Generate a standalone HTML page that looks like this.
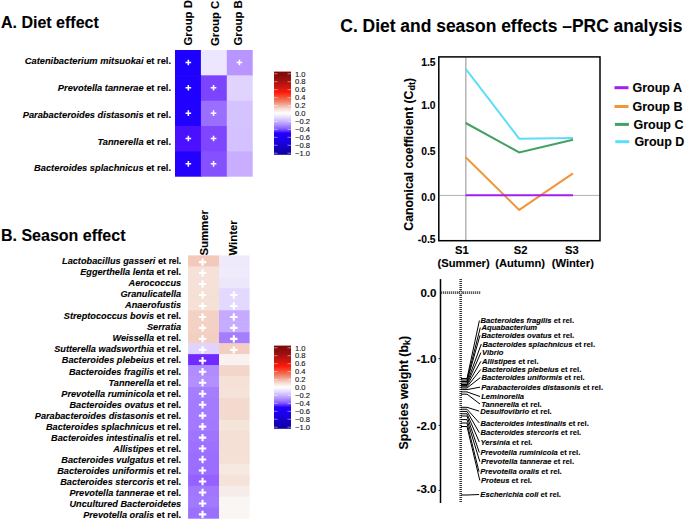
<!DOCTYPE html>
<html><head><meta charset="utf-8"><style>
html,body{margin:0;padding:0;background:#fff;}
svg{display:block;}
text{stroke:#000;stroke-width:0.1px;}
</style></head><body>
<svg width="685" height="520" viewBox="0 0 685 520" style="font-family:'Liberation Sans',sans-serif">
<rect width="685" height="520" fill="#fff"/>
<text x="1" y="27.5" font-size="16" font-weight="bold" font-family="Liberation Sans, sans-serif">A. Diet effect</text>
<text transform="translate(191.5,45.5) rotate(-90)" font-size="11.35" font-weight="bold" font-family="Liberation Sans, sans-serif">Group D</text>
<text transform="translate(219.3,46.1) rotate(-90)" font-size="11.35" font-weight="bold" font-family="Liberation Sans, sans-serif">Group C</text>
<text transform="translate(242.4,45.6) rotate(-90)" font-size="11.35" font-weight="bold" font-family="Liberation Sans, sans-serif">Group B</text>
<rect x="175.0" y="50.00" width="26.50" height="25.94" fill="#1E00FF"/>
<rect x="200.9" y="50.00" width="26.50" height="25.94" fill="#ECE6FF"/>
<rect x="226.8" y="50.00" width="25.90" height="25.94" fill="#B995FF"/>
<rect x="175.0" y="75.34" width="26.50" height="25.94" fill="#2000FF"/>
<rect x="200.9" y="75.34" width="26.50" height="25.94" fill="#7C44FF"/>
<rect x="226.8" y="75.34" width="25.90" height="25.94" fill="#E0D4FF"/>
<rect x="175.0" y="100.68" width="26.50" height="25.94" fill="#2200FF"/>
<rect x="200.9" y="100.68" width="26.50" height="25.94" fill="#9A6FFF"/>
<rect x="226.8" y="100.68" width="25.90" height="25.94" fill="#D5C3FF"/>
<rect x="175.0" y="126.02" width="26.50" height="25.94" fill="#4A10FF"/>
<rect x="200.9" y="126.02" width="26.50" height="25.94" fill="#8046FF"/>
<rect x="226.8" y="126.02" width="25.90" height="25.94" fill="#D3C2FF"/>
<rect x="175.0" y="151.36" width="26.50" height="25.34" fill="#2400FF"/>
<rect x="200.9" y="151.36" width="26.50" height="25.34" fill="#8550FF"/>
<rect x="226.8" y="151.36" width="25.90" height="25.34" fill="#C9AEFF"/>
<path d="M185.55 62.47H191.15M188.35 59.67V65.27" stroke="#fff" stroke-width="1.5" fill="none"/>
<path d="M236.65 62.47H242.25M239.45 59.67V65.27" stroke="#fff" stroke-width="1.5" fill="none"/>
<text x="171" y="64.40" text-anchor="end" font-size="9.3" font-weight="bold" font-family="Liberation Sans, sans-serif"><tspan font-style="italic">Catenibacterium mitsuokai</tspan> et rel.</text>
<path d="M185.55 87.81H191.15M188.35 85.01V90.61" stroke="#fff" stroke-width="1.5" fill="none"/>
<path d="M210.75 87.81H216.35M213.55 85.01V90.61" stroke="#fff" stroke-width="1.5" fill="none"/>
<text x="171" y="91.10" text-anchor="end" font-size="9.3" font-weight="bold" font-family="Liberation Sans, sans-serif"><tspan font-style="italic">Prevotella tannerae</tspan> et rel.</text>
<path d="M185.55 113.15H191.15M188.35 110.35V115.95" stroke="#fff" stroke-width="1.5" fill="none"/>
<path d="M210.75 113.15H216.35M213.55 110.35V115.95" stroke="#fff" stroke-width="1.5" fill="none"/>
<text x="171" y="117.80" text-anchor="end" font-size="9.3" font-weight="bold" font-family="Liberation Sans, sans-serif"><tspan font-style="italic">Parabacteroides distasonis</tspan> et rel.</text>
<path d="M185.55 138.49H191.15M188.35 135.69V141.29" stroke="#fff" stroke-width="1.5" fill="none"/>
<path d="M210.75 138.49H216.35M213.55 135.69V141.29" stroke="#fff" stroke-width="1.5" fill="none"/>
<text x="171" y="144.50" text-anchor="end" font-size="9.3" font-weight="bold" font-family="Liberation Sans, sans-serif"><tspan font-style="italic">Tannerella</tspan> et rel.</text>
<path d="M185.55 163.83H191.15M188.35 161.03V166.63" stroke="#fff" stroke-width="1.5" fill="none"/>
<path d="M210.75 163.83H216.35M213.55 161.03V166.63" stroke="#fff" stroke-width="1.5" fill="none"/>
<text x="171" y="171.20" text-anchor="end" font-size="9.3" font-weight="bold" font-family="Liberation Sans, sans-serif"><tspan font-style="italic">Bacteroides splachnicus</tspan> et rel.</text>
<defs><linearGradient id="gA" x1="0" y1="0" x2="0" y2="1"><stop offset="0" stop-color="#7A0808"/><stop offset="0.1" stop-color="#9C1010"/><stop offset="0.2" stop-color="#D81810"/><stop offset="0.25" stop-color="#FF1A0A"/><stop offset="0.30" stop-color="#F84A30"/><stop offset="0.35" stop-color="#F07A60"/><stop offset="0.40" stop-color="#F2AC9C"/><stop offset="0.45" stop-color="#F8DDD5"/><stop offset="0.5" stop-color="#FFFFFF"/><stop offset="0.55" stop-color="#E6DDFF"/><stop offset="0.62" stop-color="#BCA2FF"/><stop offset="0.68" stop-color="#9266FF"/><stop offset="0.715" stop-color="#5A30FF"/><stop offset="0.74" stop-color="#2200FF"/><stop offset="0.86" stop-color="#1800DC"/><stop offset="1" stop-color="#10009A"/></linearGradient></defs>
<rect x="274" y="71.6" width="17" height="83.2" fill="url(#gA)"/>
<path d="M274 73.80h3.5M287.5 73.80h3.5" stroke="#fff" stroke-opacity="0.6" stroke-width="0.8"/>
<text x="295" y="76.50" font-size="7.6" fill="#111" font-family="Liberation Sans, sans-serif">1.0</text>
<path d="M274 81.74h3.5M287.5 81.74h3.5" stroke="#fff" stroke-opacity="0.6" stroke-width="0.8"/>
<text x="295" y="84.44" font-size="7.6" fill="#111" font-family="Liberation Sans, sans-serif">0.8</text>
<path d="M274 89.68h3.5M287.5 89.68h3.5" stroke="#fff" stroke-opacity="0.6" stroke-width="0.8"/>
<text x="295" y="92.38" font-size="7.6" fill="#111" font-family="Liberation Sans, sans-serif">0.6</text>
<path d="M274 97.62h3.5M287.5 97.62h3.5" stroke="#fff" stroke-opacity="0.6" stroke-width="0.8"/>
<text x="295" y="100.32" font-size="7.6" fill="#111" font-family="Liberation Sans, sans-serif">0.4</text>
<path d="M274 105.56h3.5M287.5 105.56h3.5" stroke="#fff" stroke-opacity="0.6" stroke-width="0.8"/>
<text x="295" y="108.26" font-size="7.6" fill="#111" font-family="Liberation Sans, sans-serif">0.2</text>
<path d="M274 113.50h3.5M287.5 113.50h3.5" stroke="#fff" stroke-opacity="0.6" stroke-width="0.8"/>
<text x="295" y="116.20" font-size="7.6" fill="#111" font-family="Liberation Sans, sans-serif">0.0</text>
<path d="M274 121.44h3.5M287.5 121.44h3.5" stroke="#fff" stroke-opacity="0.6" stroke-width="0.8"/>
<text x="295" y="124.14" font-size="7.6" fill="#111" font-family="Liberation Sans, sans-serif">−0.2</text>
<path d="M274 129.38h3.5M287.5 129.38h3.5" stroke="#fff" stroke-opacity="0.6" stroke-width="0.8"/>
<text x="295" y="132.08" font-size="7.6" fill="#111" font-family="Liberation Sans, sans-serif">−0.4</text>
<path d="M274 137.32h3.5M287.5 137.32h3.5" stroke="#fff" stroke-opacity="0.6" stroke-width="0.8"/>
<text x="295" y="140.02" font-size="7.6" fill="#111" font-family="Liberation Sans, sans-serif">−0.6</text>
<path d="M274 145.26h3.5M287.5 145.26h3.5" stroke="#fff" stroke-opacity="0.6" stroke-width="0.8"/>
<text x="295" y="147.96" font-size="7.6" fill="#111" font-family="Liberation Sans, sans-serif">−0.8</text>
<path d="M274 153.20h3.5M287.5 153.20h3.5" stroke="#fff" stroke-opacity="0.6" stroke-width="0.8"/>
<text x="295" y="155.90" font-size="7.6" fill="#111" font-family="Liberation Sans, sans-serif">−1.0</text>
<defs><linearGradient id="gB" x1="0" y1="0" x2="0" y2="1"><stop offset="0" stop-color="#7A0808"/><stop offset="0.1" stop-color="#9C1010"/><stop offset="0.2" stop-color="#D81810"/><stop offset="0.25" stop-color="#FF1A0A"/><stop offset="0.30" stop-color="#F84A30"/><stop offset="0.35" stop-color="#F07A60"/><stop offset="0.40" stop-color="#F2AC9C"/><stop offset="0.45" stop-color="#F8DDD5"/><stop offset="0.5" stop-color="#FFFFFF"/><stop offset="0.55" stop-color="#E6DDFF"/><stop offset="0.62" stop-color="#BCA2FF"/><stop offset="0.68" stop-color="#9266FF"/><stop offset="0.715" stop-color="#5A30FF"/><stop offset="0.74" stop-color="#2200FF"/><stop offset="0.86" stop-color="#1800DC"/><stop offset="1" stop-color="#10009A"/></linearGradient></defs>
<rect x="274" y="345.6" width="17" height="83.2" fill="url(#gB)"/>
<path d="M274 347.80h3.5M287.5 347.80h3.5" stroke="#fff" stroke-opacity="0.6" stroke-width="0.8"/>
<text x="295" y="350.50" font-size="7.6" fill="#111" font-family="Liberation Sans, sans-serif">1.0</text>
<path d="M274 355.74h3.5M287.5 355.74h3.5" stroke="#fff" stroke-opacity="0.6" stroke-width="0.8"/>
<text x="295" y="358.44" font-size="7.6" fill="#111" font-family="Liberation Sans, sans-serif">0.8</text>
<path d="M274 363.68h3.5M287.5 363.68h3.5" stroke="#fff" stroke-opacity="0.6" stroke-width="0.8"/>
<text x="295" y="366.38" font-size="7.6" fill="#111" font-family="Liberation Sans, sans-serif">0.6</text>
<path d="M274 371.62h3.5M287.5 371.62h3.5" stroke="#fff" stroke-opacity="0.6" stroke-width="0.8"/>
<text x="295" y="374.32" font-size="7.6" fill="#111" font-family="Liberation Sans, sans-serif">0.4</text>
<path d="M274 379.56h3.5M287.5 379.56h3.5" stroke="#fff" stroke-opacity="0.6" stroke-width="0.8"/>
<text x="295" y="382.26" font-size="7.6" fill="#111" font-family="Liberation Sans, sans-serif">0.2</text>
<path d="M274 387.50h3.5M287.5 387.50h3.5" stroke="#fff" stroke-opacity="0.6" stroke-width="0.8"/>
<text x="295" y="390.20" font-size="7.6" fill="#111" font-family="Liberation Sans, sans-serif">0.0</text>
<path d="M274 395.44h3.5M287.5 395.44h3.5" stroke="#fff" stroke-opacity="0.6" stroke-width="0.8"/>
<text x="295" y="398.14" font-size="7.6" fill="#111" font-family="Liberation Sans, sans-serif">−0.2</text>
<path d="M274 403.38h3.5M287.5 403.38h3.5" stroke="#fff" stroke-opacity="0.6" stroke-width="0.8"/>
<text x="295" y="406.08" font-size="7.6" fill="#111" font-family="Liberation Sans, sans-serif">−0.4</text>
<path d="M274 411.32h3.5M287.5 411.32h3.5" stroke="#fff" stroke-opacity="0.6" stroke-width="0.8"/>
<text x="295" y="414.02" font-size="7.6" fill="#111" font-family="Liberation Sans, sans-serif">−0.6</text>
<path d="M274 419.26h3.5M287.5 419.26h3.5" stroke="#fff" stroke-opacity="0.6" stroke-width="0.8"/>
<text x="295" y="421.96" font-size="7.6" fill="#111" font-family="Liberation Sans, sans-serif">−0.8</text>
<path d="M274 427.20h3.5M287.5 427.20h3.5" stroke="#fff" stroke-opacity="0.6" stroke-width="0.8"/>
<text x="295" y="429.90" font-size="7.6" fill="#111" font-family="Liberation Sans, sans-serif">−1.0</text>
<text x="1" y="240.9" font-size="16" font-weight="bold" font-family="Liberation Sans, sans-serif">B. Season effect</text>
<rect x="188.1" y="255.40" width="31.50" height="11.57" fill="#F2C9BB"/>
<rect x="219.0" y="255.40" width="30.60" height="11.57" fill="#EEEAFB"/>
<rect x="188.1" y="266.37" width="31.50" height="11.57" fill="#F5E1D7"/>
<rect x="219.0" y="266.37" width="30.60" height="11.57" fill="#EFEBFB"/>
<rect x="188.1" y="277.34" width="31.50" height="11.57" fill="#F5E1D7"/>
<rect x="219.0" y="277.34" width="30.60" height="11.57" fill="#EDE7FC"/>
<rect x="188.1" y="288.31" width="31.50" height="11.57" fill="#F5E0D6"/>
<rect x="219.0" y="288.31" width="30.60" height="11.57" fill="#E3D8FE"/>
<rect x="188.1" y="299.28" width="31.50" height="11.57" fill="#F5E1D7"/>
<rect x="219.0" y="299.28" width="30.60" height="11.57" fill="#E3D8FE"/>
<rect x="188.1" y="310.25" width="31.50" height="11.57" fill="#F3D2C5"/>
<rect x="219.0" y="310.25" width="30.60" height="11.57" fill="#C6AAFF"/>
<rect x="188.1" y="321.22" width="31.50" height="11.57" fill="#F3D2C5"/>
<rect x="219.0" y="321.22" width="30.60" height="11.57" fill="#C6ACFF"/>
<rect x="188.1" y="332.19" width="31.50" height="11.57" fill="#F2CFC1"/>
<rect x="219.0" y="332.19" width="30.60" height="11.57" fill="#A57DFF"/>
<rect x="188.1" y="343.16" width="31.50" height="11.57" fill="#E0D4FE"/>
<rect x="219.0" y="343.16" width="30.60" height="11.57" fill="#F2CFC2"/>
<rect x="188.1" y="354.13" width="31.50" height="11.57" fill="#6F2BFF"/>
<rect x="219.0" y="354.13" width="30.60" height="11.57" fill="#F9F2EE"/>
<rect x="188.1" y="365.10" width="31.50" height="11.57" fill="#B18CFF"/>
<rect x="219.0" y="365.10" width="30.60" height="11.57" fill="#F3D6CA"/>
<rect x="188.1" y="376.07" width="31.50" height="11.57" fill="#B38FFF"/>
<rect x="219.0" y="376.07" width="30.60" height="11.57" fill="#F5E1D7"/>
<rect x="188.1" y="387.04" width="31.50" height="11.57" fill="#A57DFF"/>
<rect x="219.0" y="387.04" width="30.60" height="11.57" fill="#F5E2D8"/>
<rect x="188.1" y="398.01" width="31.50" height="11.57" fill="#A47BFF"/>
<rect x="219.0" y="398.01" width="30.60" height="11.57" fill="#F4D9CE"/>
<rect x="188.1" y="408.98" width="31.50" height="11.57" fill="#A47BFF"/>
<rect x="219.0" y="408.98" width="30.60" height="11.57" fill="#F4D9CE"/>
<rect x="188.1" y="419.95" width="31.50" height="11.57" fill="#A37AFF"/>
<rect x="219.0" y="419.95" width="30.60" height="11.57" fill="#F5E4DA"/>
<rect x="188.1" y="430.92" width="31.50" height="11.57" fill="#9F74FF"/>
<rect x="219.0" y="430.92" width="30.60" height="11.57" fill="#F5E0D6"/>
<rect x="188.1" y="441.89" width="31.50" height="11.57" fill="#9D70FF"/>
<rect x="219.0" y="441.89" width="30.60" height="11.57" fill="#F5E0D6"/>
<rect x="188.1" y="452.86" width="31.50" height="11.57" fill="#9C6EFF"/>
<rect x="219.0" y="452.86" width="30.60" height="11.57" fill="#F5E0D6"/>
<rect x="188.1" y="463.83" width="31.50" height="11.57" fill="#9C6EFF"/>
<rect x="219.0" y="463.83" width="30.60" height="11.57" fill="#F6E9E1"/>
<rect x="188.1" y="474.80" width="31.50" height="11.57" fill="#9561FF"/>
<rect x="219.0" y="474.80" width="30.60" height="11.57" fill="#F5E2D8"/>
<rect x="188.1" y="485.77" width="31.50" height="11.57" fill="#A177FF"/>
<rect x="219.0" y="485.77" width="30.60" height="11.57" fill="#F7EDE8"/>
<rect x="188.1" y="496.74" width="31.50" height="11.57" fill="#A27AFF"/>
<rect x="219.0" y="496.74" width="30.60" height="11.57" fill="#FAF6F4"/>
<rect x="188.1" y="507.71" width="31.50" height="10.97" fill="#9C70FF"/>
<rect x="219.0" y="507.71" width="30.60" height="10.97" fill="#FAF6F4"/>
<path d="M198.85 262.08H206.25M202.55 258.38V265.78" stroke="#fff" stroke-width="2.1" fill="none"/>
<text x="181.1" y="263.90" text-anchor="end" font-size="9.18" font-weight="bold" font-family="Liberation Sans, sans-serif"><tspan font-style="italic">Lactobacillus gasseri</tspan> et <tspan font-size="8.3">rel.</tspan></text>
<path d="M198.85 273.06H206.25M202.55 269.36V276.75" stroke="#fff" stroke-width="2.1" fill="none"/>
<text x="181.1" y="274.96" text-anchor="end" font-size="9.18" font-weight="bold" font-family="Liberation Sans, sans-serif"><tspan font-style="italic">Eggerthella lenta</tspan> et rel.</text>
<path d="M198.85 284.02H206.25M202.55 280.32V287.72" stroke="#fff" stroke-width="2.1" fill="none"/>
<text x="181.1" y="286.03" text-anchor="end" font-size="9.18" font-weight="bold" font-family="Liberation Sans, sans-serif"><tspan font-style="italic">Aerococcus</tspan></text>
<path d="M198.85 295.00H206.25M202.55 291.30V298.69" stroke="#fff" stroke-width="2.1" fill="none"/>
<path d="M230.10 295.00H237.50M233.80 291.30V298.69" stroke="#fff" stroke-width="2.1" fill="none"/>
<text x="181.1" y="297.09" text-anchor="end" font-size="9.18" font-weight="bold" font-family="Liberation Sans, sans-serif"><tspan font-style="italic">Granulicatella</tspan></text>
<path d="M198.85 305.96H206.25M202.55 302.26V309.66" stroke="#fff" stroke-width="2.1" fill="none"/>
<path d="M230.10 305.96H237.50M233.80 302.26V309.66" stroke="#fff" stroke-width="2.1" fill="none"/>
<text x="181.1" y="308.16" text-anchor="end" font-size="9.18" font-weight="bold" font-family="Liberation Sans, sans-serif"><tspan font-style="italic">Anaerofustis</tspan></text>
<path d="M198.85 316.94H206.25M202.55 313.24V320.63" stroke="#fff" stroke-width="2.1" fill="none"/>
<path d="M230.10 316.94H237.50M233.80 313.24V320.63" stroke="#fff" stroke-width="2.1" fill="none"/>
<text x="181.1" y="319.22" text-anchor="end" font-size="9.18" font-weight="bold" font-family="Liberation Sans, sans-serif"><tspan font-style="italic">Streptococcus bovis</tspan> et rel.</text>
<path d="M198.85 327.91H206.25M202.55 324.21V331.61" stroke="#fff" stroke-width="2.1" fill="none"/>
<path d="M230.10 327.91H237.50M233.80 324.21V331.61" stroke="#fff" stroke-width="2.1" fill="none"/>
<text x="181.1" y="330.29" text-anchor="end" font-size="9.18" font-weight="bold" font-family="Liberation Sans, sans-serif"><tspan font-style="italic">Serratia</tspan></text>
<path d="M198.85 338.88H206.25M202.55 335.18V342.57" stroke="#fff" stroke-width="2.1" fill="none"/>
<path d="M230.10 338.88H237.50M233.80 335.18V342.57" stroke="#fff" stroke-width="2.1" fill="none"/>
<text x="181.1" y="341.35" text-anchor="end" font-size="9.18" font-weight="bold" font-family="Liberation Sans, sans-serif"><tspan font-style="italic">Weissella</tspan> et rel.</text>
<path d="M198.85 349.84H206.25M202.55 346.14V353.54" stroke="#fff" stroke-width="2.1" fill="none"/>
<path d="M230.10 349.84H237.50M233.80 346.14V353.54" stroke="#fff" stroke-width="2.1" fill="none"/>
<text x="181.1" y="352.42" text-anchor="end" font-size="9.18" font-weight="bold" font-family="Liberation Sans, sans-serif"><tspan font-style="italic">Sutterella wadsworthia</tspan> et rel.</text>
<path d="M198.85 360.81H206.25M202.55 357.12V364.51" stroke="#fff" stroke-width="2.1" fill="none"/>
<text x="181.1" y="363.48" text-anchor="end" font-size="9.18" font-weight="bold" font-family="Liberation Sans, sans-serif"><tspan font-style="italic">Bacteroides plebeius</tspan> et rel.</text>
<path d="M198.85 371.79H206.25M202.55 368.09V375.49" stroke="#fff" stroke-width="2.1" fill="none"/>
<text x="181.1" y="374.55" text-anchor="end" font-size="9.18" font-weight="bold" font-family="Liberation Sans, sans-serif"><tspan font-style="italic">Bacteroides fragilis</tspan> et rel.</text>
<path d="M198.85 382.75H206.25M202.55 379.06V386.45" stroke="#fff" stroke-width="2.1" fill="none"/>
<text x="181.1" y="385.61" text-anchor="end" font-size="9.18" font-weight="bold" font-family="Liberation Sans, sans-serif"><tspan font-style="italic">Tannerella</tspan> et rel.</text>
<path d="M198.85 393.72H206.25M202.55 390.02V397.42" stroke="#fff" stroke-width="2.1" fill="none"/>
<text x="181.1" y="396.68" text-anchor="end" font-size="9.18" font-weight="bold" font-family="Liberation Sans, sans-serif"><tspan font-style="italic">Prevotella ruminicola</tspan> et rel.</text>
<path d="M198.85 404.69H206.25M202.55 401.00V408.39" stroke="#fff" stroke-width="2.1" fill="none"/>
<text x="181.1" y="407.75" text-anchor="end" font-size="9.18" font-weight="bold" font-family="Liberation Sans, sans-serif"><tspan font-style="italic">Bacteroides ovatus</tspan> et rel.</text>
<path d="M198.85 415.67H206.25M202.55 411.97V419.37" stroke="#fff" stroke-width="2.1" fill="none"/>
<text x="181.1" y="418.81" text-anchor="end" font-size="9.18" font-weight="bold" font-family="Liberation Sans, sans-serif"><tspan font-style="italic">Parabacteroides distasonis</tspan> et rel.</text>
<path d="M198.85 426.63H206.25M202.55 422.94V430.33" stroke="#fff" stroke-width="2.1" fill="none"/>
<text x="181.1" y="429.88" text-anchor="end" font-size="9.18" font-weight="bold" font-family="Liberation Sans, sans-serif"><tspan font-style="italic">Bacteroides splachnicus</tspan> et rel.</text>
<path d="M198.85 437.61H206.25M202.55 433.91V441.31" stroke="#fff" stroke-width="2.1" fill="none"/>
<text x="181.1" y="440.94" text-anchor="end" font-size="9.18" font-weight="bold" font-family="Liberation Sans, sans-serif"><tspan font-style="italic">Bacteroides intestinalis</tspan> et rel.</text>
<path d="M198.85 448.57H206.25M202.55 444.88V452.27" stroke="#fff" stroke-width="2.1" fill="none"/>
<text x="181.1" y="452.00" text-anchor="end" font-size="9.18" font-weight="bold" font-family="Liberation Sans, sans-serif"><tspan font-style="italic">Allistipes</tspan> et rel.</text>
<path d="M198.85 459.55H206.25M202.55 455.85V463.25" stroke="#fff" stroke-width="2.1" fill="none"/>
<text x="181.1" y="463.07" text-anchor="end" font-size="9.18" font-weight="bold" font-family="Liberation Sans, sans-serif"><tspan font-style="italic">Bacteroides vulgatus</tspan> et rel.</text>
<path d="M198.85 470.52H206.25M202.55 466.82V474.22" stroke="#fff" stroke-width="2.1" fill="none"/>
<text x="181.1" y="474.13" text-anchor="end" font-size="9.18" font-weight="bold" font-family="Liberation Sans, sans-serif"><tspan font-style="italic">Bacteroides uniformis</tspan> et rel.</text>
<path d="M198.85 481.49H206.25M202.55 477.79V485.19" stroke="#fff" stroke-width="2.1" fill="none"/>
<text x="181.1" y="485.20" text-anchor="end" font-size="9.18" font-weight="bold" font-family="Liberation Sans, sans-serif"><tspan font-style="italic">Bacteroides stercoris</tspan> et rel.</text>
<path d="M198.85 492.45H206.25M202.55 488.75V496.15" stroke="#fff" stroke-width="2.1" fill="none"/>
<text x="181.1" y="496.26" text-anchor="end" font-size="9.18" font-weight="bold" font-family="Liberation Sans, sans-serif"><tspan font-style="italic">Prevotella tannerae</tspan> et rel.</text>
<path d="M198.85 503.43H206.25M202.55 499.73V507.12" stroke="#fff" stroke-width="2.1" fill="none"/>
<text x="181.1" y="507.33" text-anchor="end" font-size="9.18" font-weight="bold" font-family="Liberation Sans, sans-serif"><tspan font-style="italic">Uncultured Bacteroidetes</tspan></text>
<path d="M198.85 514.40H206.25M202.55 510.70V518.10" stroke="#fff" stroke-width="2.1" fill="none"/>
<text x="181.1" y="518.39" text-anchor="end" font-size="9.18" font-weight="bold" font-family="Liberation Sans, sans-serif"><tspan font-style="italic">Prevotella oralis</tspan> et rel.</text>
<text transform="translate(208.3,255.6) rotate(-90)" font-size="11.4" font-weight="bold" font-family="Liberation Sans, sans-serif">Summer</text>
<text transform="translate(237.2,255.6) rotate(-90)" font-size="11.4" font-weight="bold" font-family="Liberation Sans, sans-serif">Winter</text>
<text x="340.3" y="32.3" font-size="17.45" font-weight="bold" font-family="Liberation Sans, sans-serif">C. Diet and season effects –PRC analysis</text>
<path d="M465.8 57.5V240.3" stroke="#b8b8b8" stroke-width="1.6" fill="none"/>
<path d="M439.4 195.4H599.6" stroke="#b0b0b0" stroke-width="1" fill="none"/>
<rect x="438.8" y="56.9" width="161.2" height="183.8" fill="none" stroke="#000" stroke-width="1.5"/>
<path d="M465.7 68.8 L519.2 138.7 L573 137.9" stroke="#5CDDFA" stroke-width="2" fill="none" stroke-linejoin="miter"/>
<path d="M465.7 123.0 L519.2 152.4 L573 139.8" stroke="#44A064" stroke-width="2" fill="none" stroke-linejoin="miter"/>
<path d="M465.7 157.3 L519.2 209.9 L573 173.3" stroke="#F2953A" stroke-width="2" fill="none" stroke-linejoin="miter"/>
<path d="M465.7 195.3 L573 195.3" stroke="#A21FF4" stroke-width="2" fill="none" stroke-linejoin="miter"/>
<text x="435.5" y="65.80" text-anchor="end" font-size="10.3" font-weight="bold" font-family="Liberation Sans, sans-serif">1.5</text>
<text x="435.5" y="108.90" text-anchor="end" font-size="10.3" font-weight="bold" font-family="Liberation Sans, sans-serif">1.0</text>
<text x="435.5" y="155.20" text-anchor="end" font-size="10.3" font-weight="bold" font-family="Liberation Sans, sans-serif">0.5</text>
<text x="435.5" y="201.40" text-anchor="end" font-size="10.3" font-weight="bold" font-family="Liberation Sans, sans-serif">0.0</text>
<text x="435.5" y="242.50" text-anchor="end" font-size="10.3" font-weight="bold" font-family="Liberation Sans, sans-serif">-0.5</text>
<text transform="translate(413,230.7) rotate(-90)" font-size="12.3" font-weight="bold" font-family="Liberation Sans, sans-serif">Canonical coefficient (C<tspan font-size="9" dy="2.2">dt</tspan><tspan dy="-2.2">)</tspan></text>
<text x="461.8" y="254.0" text-anchor="middle" font-size="11.2" font-weight="bold" font-family="Liberation Sans, sans-serif">S1</text>
<text x="520.6" y="254.0" text-anchor="middle" font-size="11.2" font-weight="bold" font-family="Liberation Sans, sans-serif">S2</text>
<text x="571.9" y="254.0" text-anchor="middle" font-size="11.2" font-weight="bold" font-family="Liberation Sans, sans-serif">S3</text>
<text x="463.6" y="266.8" text-anchor="middle" font-size="11.2" font-weight="bold" font-family="Liberation Sans, sans-serif">(Summer)</text>
<text x="520.1" y="266.8" text-anchor="middle" font-size="11.2" font-weight="bold" font-family="Liberation Sans, sans-serif">(Autumn)</text>
<text x="572.8" y="266.8" text-anchor="middle" font-size="11.2" font-weight="bold" font-family="Liberation Sans, sans-serif">(Winter)</text>
<path d="M614.50 87.7H628.50" stroke="#A21FF4" stroke-width="3"/>
<text x="632.50" y="91.90" font-size="12.5" font-weight="bold" font-family="Liberation Sans, sans-serif">Group A</text>
<path d="M614.50 106.5H628.50" stroke="#F2953A" stroke-width="3"/>
<text x="632.50" y="110.70" font-size="12.5" font-weight="bold" font-family="Liberation Sans, sans-serif">Group B</text>
<path d="M614.90 124.4H628.90" stroke="#44A064" stroke-width="3"/>
<text x="633.50" y="128.60" font-size="12.5" font-weight="bold" font-family="Liberation Sans, sans-serif">Group C</text>
<path d="M615.26 141.7H629.26" stroke="#5CDDFA" stroke-width="3"/>
<text x="634.40" y="145.90" font-size="12.5" font-weight="bold" font-family="Liberation Sans, sans-serif">Group D</text>
<path d="M440.5 279.1V503" stroke="#000" stroke-width="1.5"/>
<path d="M438.5 358.6H440.5" stroke="#000" stroke-width="0.8"/>
<path d="M438.5 425.4H440.5" stroke="#000" stroke-width="0.8"/>
<path d="M438.5 490.5H440.5" stroke="#000" stroke-width="0.8"/>
<path d="M460.7 279V503" stroke="#333" stroke-width="2.6" stroke-dasharray="1 1"/>
<path d="M440.8 292.6H481" stroke="#333" stroke-width="2.8" stroke-dasharray="1 1"/>
<circle cx="460.7" cy="292.6" r="1.6" fill="#fff" stroke="#000" stroke-width="0.8"/>
<text x="436.5" y="296.80" text-anchor="end" font-size="11.6" font-weight="bold" font-family="Liberation Sans, sans-serif">0.0</text>
<text x="436.5" y="362.70" text-anchor="end" font-size="11.6" font-weight="bold" font-family="Liberation Sans, sans-serif">-1.0</text>
<text x="436.5" y="429.50" text-anchor="end" font-size="11.6" font-weight="bold" font-family="Liberation Sans, sans-serif">-2.0</text>
<text x="436.5" y="492.60" text-anchor="end" font-size="11.6" font-weight="bold" font-family="Liberation Sans, sans-serif">-3.0</text>
<text transform="translate(407.5,449.6) rotate(-90)" font-size="12.4" font-weight="bold" font-family="Liberation Sans, sans-serif">Species weight (b<tspan font-size="9" dy="2.2">k</tspan><tspan dy="-2.2">)</tspan></text>
<path d="M461 378.5H467L479.40 320.5" stroke="#000" stroke-width="1.0" fill="none"/>
<text x="480.60" y="323.20" font-size="7.65" font-weight="bold" font-family="Liberation Sans, sans-serif"><tspan font-style="italic">Bacteroides fragilis</tspan> et rel.</text>
<path d="M461 380.0H467L480.30 327.6" stroke="#000" stroke-width="1.0" fill="none"/>
<text x="481.50" y="330.30" font-size="7.65" font-weight="bold" font-family="Liberation Sans, sans-serif"><tspan font-style="italic">Aquabacterium</tspan></text>
<path d="M461 381.5H467L480.00 335.3" stroke="#000" stroke-width="1.0" fill="none"/>
<text x="481.20" y="338.00" font-size="7.65" font-weight="bold" font-family="Liberation Sans, sans-serif"><tspan font-style="italic">Bacteroides ovatus</tspan> et rel.</text>
<path d="M461 383.0H467L481.30 344.0" stroke="#000" stroke-width="1.0" fill="none"/>
<text x="482.50" y="346.70" font-size="7.65" font-weight="bold" font-family="Liberation Sans, sans-serif"><tspan font-style="italic">Bacteroides splachnicus</tspan> et rel.</text>
<path d="M461 384.5H467L480.90 352.6" stroke="#000" stroke-width="1.0" fill="none"/>
<text x="482.10" y="355.30" font-size="7.65" font-weight="bold" font-family="Liberation Sans, sans-serif"><tspan font-style="italic">Vibrio</tspan></text>
<path d="M461 385.6H467L480.90 361.3" stroke="#000" stroke-width="1.0" fill="none"/>
<text x="482.10" y="364.00" font-size="7.65" font-weight="bold" font-family="Liberation Sans, sans-serif"><tspan font-style="italic">Allistipes</tspan> et rel.</text>
<path d="M461 386.8H467L480.70 369.5" stroke="#000" stroke-width="1.0" fill="none"/>
<text x="481.90" y="372.20" font-size="7.65" font-weight="bold" font-family="Liberation Sans, sans-serif"><tspan font-style="italic">Bacteroides plebeius</tspan> et rel.</text>
<path d="M461 388.0H467L480.30 377.6" stroke="#000" stroke-width="1.0" fill="none"/>
<text x="481.50" y="380.30" font-size="7.65" font-weight="bold" font-family="Liberation Sans, sans-serif"><tspan font-style="italic">Bacteroides uniformis</tspan> et rel.</text>
<path d="M461 389.6H467L480.00 387.2" stroke="#000" stroke-width="1.0" fill="none"/>
<text x="481.20" y="389.90" font-size="7.65" font-weight="bold" font-family="Liberation Sans, sans-serif"><tspan font-style="italic">Parabacteroides distasonis</tspan> et rel.</text>
<path d="M461 391.9H467L480.00 396.5" stroke="#000" stroke-width="1.0" fill="none"/>
<text x="481.20" y="399.20" font-size="7.65" font-weight="bold" font-family="Liberation Sans, sans-serif"><tspan font-style="italic">Leminorella</tspan></text>
<path d="M461 394.2H467L480.00 404.0" stroke="#000" stroke-width="1.0" fill="none"/>
<text x="481.20" y="406.70" font-size="7.65" font-weight="bold" font-family="Liberation Sans, sans-serif"><tspan font-style="italic">Tannerella</tspan> et rel.</text>
<path d="M461 407.3H467L479.10 411.1" stroke="#000" stroke-width="1.0" fill="none"/>
<text x="480.30" y="413.80" font-size="7.65" font-weight="bold" font-family="Liberation Sans, sans-serif"><tspan font-style="italic">Desulfovibrio</tspan> et rel.</text>
<path d="M461 409.2H467L479.30 422.9" stroke="#000" stroke-width="1.0" fill="none"/>
<text x="480.50" y="425.60" font-size="7.65" font-weight="bold" font-family="Liberation Sans, sans-serif"><tspan font-style="italic">Bacteroides intestinalis</tspan> et rel.</text>
<path d="M461 411.4H467L479.30 432.7" stroke="#000" stroke-width="1.0" fill="none"/>
<text x="480.50" y="435.40" font-size="7.65" font-weight="bold" font-family="Liberation Sans, sans-serif"><tspan font-style="italic">Bacteroides stercoris</tspan> et rel.</text>
<path d="M461 413.8H467L479.30 442.0" stroke="#000" stroke-width="1.0" fill="none"/>
<text x="480.50" y="444.70" font-size="7.65" font-weight="bold" font-family="Liberation Sans, sans-serif"><tspan font-style="italic">Yersinia</tspan> et rel.</text>
<path d="M461 416.0H467L479.30 452.5" stroke="#000" stroke-width="1.0" fill="none"/>
<text x="480.50" y="455.20" font-size="7.65" font-weight="bold" font-family="Liberation Sans, sans-serif"><tspan font-style="italic">Prevotella ruminicola</tspan> et rel.</text>
<path d="M461 419.6H467L479.80 461.6" stroke="#000" stroke-width="1.0" fill="none"/>
<text x="481.00" y="464.30" font-size="7.65" font-weight="bold" font-family="Liberation Sans, sans-serif"><tspan font-style="italic">Prevotella tannerae</tspan> et rel.</text>
<path d="M461 423.0H467L479.00 471.7" stroke="#000" stroke-width="1.0" fill="none"/>
<text x="480.20" y="474.40" font-size="7.65" font-weight="bold" font-family="Liberation Sans, sans-serif"><tspan font-style="italic">Prevotella oralis</tspan> et rel.</text>
<path d="M461 426.5H467L479.80 480.4" stroke="#000" stroke-width="1.0" fill="none"/>
<text x="481.00" y="483.10" font-size="7.65" font-weight="bold" font-family="Liberation Sans, sans-serif"><tspan font-style="italic">Proteus</tspan> et rel.</text>
<path d="M461 495.0H467L479.10 494.5" stroke="#000" stroke-width="1.0" fill="none"/>
<text x="480.30" y="497.20" font-size="7.65" font-weight="bold" font-family="Liberation Sans, sans-serif"><tspan font-style="italic">Escherichia coli</tspan> et rel.</text>
</svg>
</body></html>
